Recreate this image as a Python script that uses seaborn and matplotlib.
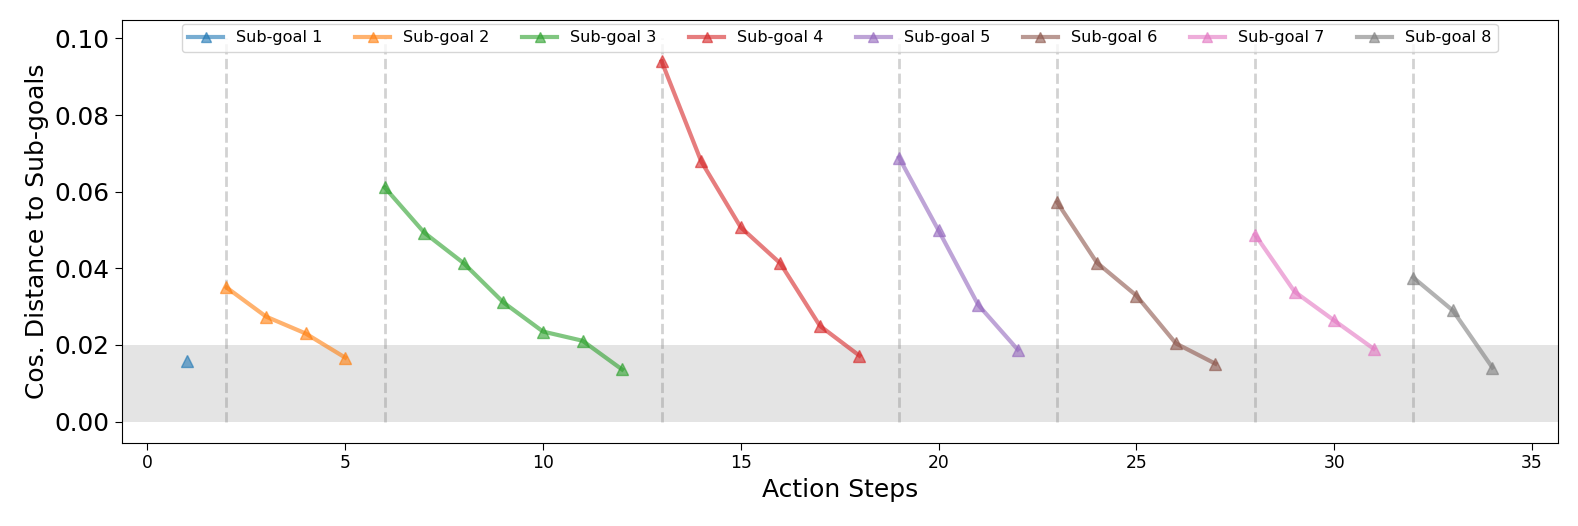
import numpy as np
import pandas as pd
import matplotlib
matplotlib.use("Agg")
import matplotlib.pyplot as plt
import seaborn as sns

subgoal_names = ["Sub-goal 1", "Sub-goal 2", "Sub-goal 3", "Sub-goal 4",
                 "Sub-goal 5", "Sub-goal 6", "Sub-goal 7", "Sub-goal 8"]
steps_sg1 = [1]
dist_sg1 = [0.0159]
steps_sg2 = [2, 3, 4, 5]
dist_sg2 = [0.0350, 0.0274, 0.0230, 0.0167]
steps_sg3 = [6, 7, 8, 9, 10, 11, 12]
dist_sg3 = [0.0611, 0.0493, 0.0413, 0.0311, 0.0235, 0.0211, 0.0136]
steps_sg4 = [13, 14, 15, 16, 17, 18]
dist_sg4 = [0.0940, 0.0679, 0.0507, 0.0413, 0.0250, 0.0172]
steps_sg5 = [19, 20, 21, 22]
dist_sg5 = [0.0689, 0.0499, 0.0305, 0.0188]
steps_sg6 = [23, 24, 25, 26, 27]
dist_sg6 = [0.0572, 0.0415, 0.0329, 0.0204, 0.0151]
steps_sg7 = [28, 29, 30, 31]
dist_sg7 = [0.0488, 0.0339, 0.0264, 0.0190]
steps_sg8 = [32, 33, 34]
dist_sg8 = [0.0376, 0.0290, 0.0141]
boundaries = [2, 6, 13, 19, 23, 28, 32]
threshold = 0.02

all_steps = [steps_sg1, steps_sg2, steps_sg3, steps_sg4, steps_sg5, steps_sg6, steps_sg7, steps_sg8]
all_dist = [dist_sg1, dist_sg2, dist_sg3, dist_sg4, dist_sg5, dist_sg6, dist_sg7, dist_sg8]
rows = []
for name, xs, ys in zip(subgoal_names, all_steps, all_dist):
    for x, y in zip(xs, ys):
        rows.append({"step": x, "dist": y, "subgoal": name})
df = pd.DataFrame(rows)

fig = plt.figure(figsize=(15.78, 5.26), dpi=100)
ax = fig.add_axes([0.0771, 0.1584, 0.9100, 0.8036])

ax.axhspan(0, threshold, color="#e4e4e4", zorder=0, lw=0)
ax.vlines(boundaries, 0, 0.1, colors="grey", linestyles="--", linewidth=2, alpha=0.35, zorder=1)

palette = sns.color_palette("tab10", 8)
sns.lineplot(data=df, x="step", y="dist", hue="subgoal", palette=palette,
             marker="^", markersize=8, markeredgewidth=1, linewidth=3, alpha=0.6,
             ax=ax, zorder=3)
for ln in ax.lines:
    if ln.get_marker() == "^":
        ln.set_markeredgecolor(ln.get_color())
        ln.set_markerfacecolor(ln.get_color())

ax.set_xlim(-0.65, 35.65)
ax.set_ylim(-0.0055, 0.1048)
ax.set_xticks([0, 5, 10, 15, 20, 25, 30, 35])
ax.set_yticks([0.0, 0.02, 0.04, 0.06, 0.08, 0.10])
ax.set_yticklabels(["0.00", "0.02", "0.04", "0.06", "0.08", "0.10"])
ax.tick_params(axis="x", labelsize=12.3, length=5)
ax.tick_params(axis="y", labelsize=17.8, length=5)
ax.set_xlabel("Action Steps", fontsize=18)
ax.set_ylabel("Cos. Distance to Sub-goals", fontsize=18)

handles, labels = ax.get_legend_handles_labels()
for h in handles:
    try:
        h.set_markeredgecolor(h.get_color())
        h.set_markerfacecolor(h.get_color())
        h.set_markersize(6.5)
    except Exception:
        pass
ax.legend(handles, labels, loc="upper center", ncol=8, fontsize=11.6,
          bbox_to_anchor=(0.5, 1.0), borderaxespad=0.25, handlelength=2.2,
          columnspacing=2.0)

fig.savefig("out.png", dpi=100)
